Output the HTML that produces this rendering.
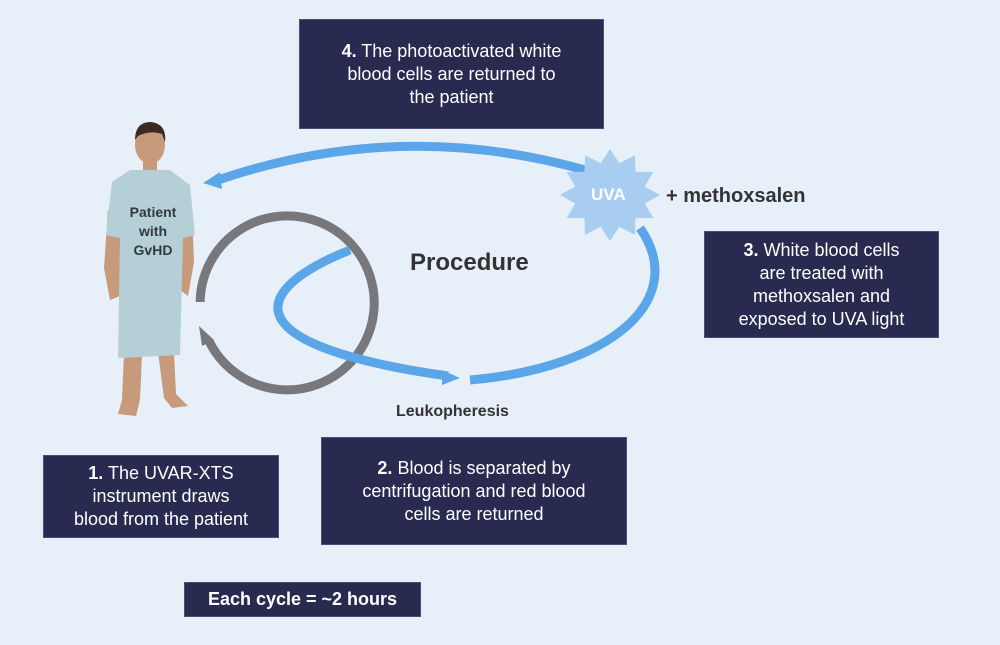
<!DOCTYPE html>
<html><head><meta charset="utf-8"><style>
body{margin:0;width:1000px;height:645px;background:#e7f0f9;font-family:"Liberation Sans",sans-serif;overflow:hidden;position:relative}
.b{position:absolute;background:#282a50;color:#fff;font-size:18px;line-height:23px;text-align:center;display:flex;align-items:center;justify-content:center;border:1px solid #4a4f7a;box-sizing:border-box}
.t{position:absolute;font-weight:bold;color:#333}
</style></head><body>
<svg width="1000" height="645" style="position:absolute;left:0;top:0">
<g>
<path d="M124,352 L122,400 L118,414 L136,416 L140,400 L142,355 Z" fill="#c89a7c"/>
<path d="M158,352 L164,398 L172,408 L188,406 L176,394 L174,352 Z" fill="#c89a7c"/>
<path d="M108,210 L104,268 L110,300 L120,296 L120,215 Z" fill="#c89a7c"/>
<path d="M192,210 L194,262 L188,296 L180,290 L180,215 Z" fill="#c89a7c"/>
<rect x="143" y="155" width="14" height="20" fill="#c89a7c"/>
<ellipse cx="150" cy="145" rx="15" ry="19" fill="#c89a7c"/>
<path d="M135,140 Q135,122 151,122 Q167,124 165,142 L162,134 Q150,130 138,136 Z" fill="#3b2a22"/>
<path d="M130,170 L170,170 L190,185 L195,235 L183,238 L180,355 L118,358 L120,238 L106,235 L112,182 Z" fill="#b4d0d6"/>
</g>
<path d="M200.2,302 A87,87 0 1 1 209,341" fill="none" stroke="#77787b" stroke-width="9"/>
<path d="M199,326 L214,340 L202,346 Z" fill="#77787b"/>
<g fill="none" stroke="#5aa6e8" stroke-width="9">
<path d="M585,170 Q400,118 218,180"/>
<path d="M640,228 C690,300 610,368 470,380"/>
<path d="M350,250 C250,290 230,345 448,376"/>
</g>
<path d="M203,183 L220,172 L222,189 Z" fill="#5aa6e8"/>
<path d="M460,378 L442,370 L442,385 Z" fill="#5aa6e8"/>
<polygon fill="#a9cdf1" points="660,195 644.8,203.5 653.3,218 635.5,218.3 635,234.8 619.3,226.9 610,241 600.7,226.9 585,234.8 584.5,218.3 566.7,218 575.2,203.5 560,195 575.2,186.5 566.7,172 584.5,171.7 585,155.2 600.7,163.1 610,149 619.3,163.1 635,155.2 635.5,171.7 653.3,172 644.8,186.5"/>
</svg>
<div class="t" style="left:591px;top:185px;color:#fff;font-size:17px">UVA</div>
<div class="t" style="left:666px;top:185px;font-size:20px">+ methoxsalen</div>
<div class="t" style="left:110px;top:203px;width:86px;text-align:center;font-size:14px;line-height:19px;color:#2e3a40">Patient<br>with<br>GvHD</div>
<div class="t" style="left:410px;top:249px;font-size:24px;color:#333">Procedure</div>
<div class="t" style="left:396px;top:403px;font-size:16px">Leukopheresis</div>
<div class="b" style="left:299px;top:19px;width:305px;height:110px"><span><b>4.</b> The photoactivated white<br>blood cells are returned to<br>the patient</span></div>
<div class="b" style="left:704px;top:231px;width:235px;height:107px"><span><b>3.</b> White blood cells<br>are treated with<br>methoxsalen and<br>exposed to UVA light</span></div>
<div class="b" style="left:43px;top:455px;width:236px;height:83px"><span><b>1.</b> The UVAR-XTS<br>instrument draws<br>blood from the patient</span></div>
<div class="b" style="left:321px;top:437px;width:306px;height:108px"><span><b>2.</b> Blood is separated by<br>centrifugation and red blood<br>cells are returned</span></div>
<div class="b" style="left:184px;top:582px;width:237px;height:35px;font-weight:bold">Each cycle = ~2 hours</div>
</body></html>
